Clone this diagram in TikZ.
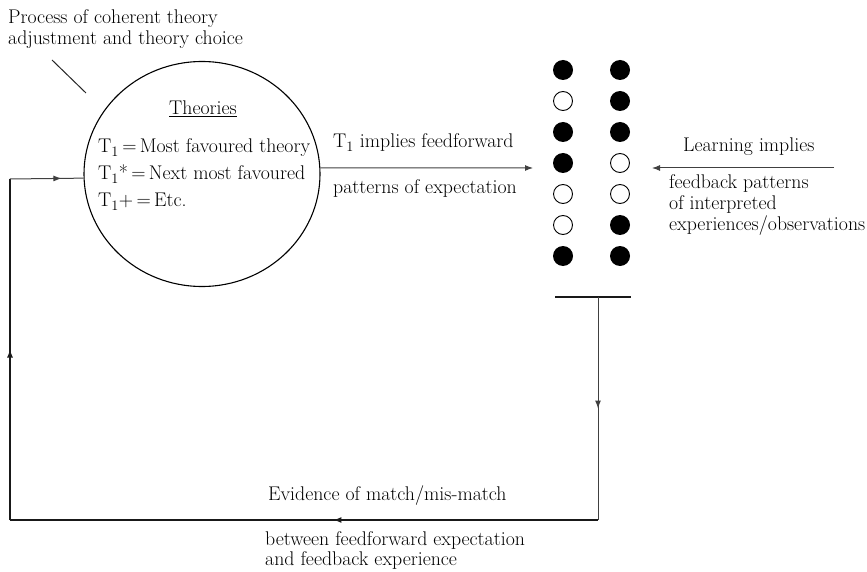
\documentclass[tikz,border=0pt]{standalone}
\usetikzlibrary{arrows.meta,shapes.geometric,decorations.markings}
\begin{document}
\begin{tikzpicture}[x=1pt,y=-1pt,
  txt/.style={font=\fontsize{19.8}{22}\selectfont, inner sep=0pt, anchor=base west},
  dotf/.style={circle, fill=black, minimum size=20pt, inner sep=0pt},
  doto/.style={circle, draw=black, line width=0.9pt, minimum size=19pt, inner sep=0pt},
  midarrow/.style={postaction={decorate}, decoration={markings, mark=at position #1 with {\arrow{Latex[length=8pt,width=6pt]}}}},
  loopline/.style={line width=1.3pt, black!90},
  thinline/.style={line width=1pt, black!75}
]
\useasboundingbox (0,0) rectangle (867,572);

% texts
\node[txt] (proc1) at (8,24) {Process of coherent theory};
\node[txt] (proc2) at (8,45) {adjustment and theory choice};
\coordinate (diagA) at (52,60);
\coordinate (diagB) at (86,93);
\draw[line width=1pt, black!85] (diagA) -- (diagB);

% ellipse of theories
\node[ellipse, draw, line width=1.1pt, minimum width=236pt, minimum height=225pt, inner sep=0pt] (theo) at (202,174) {};
\node[txt, anchor=base] (theories) at (203,115) {\underline{Theories}};
\node[txt] (t1) at (98,153) {T$_1$\,=\,Most favoured theory};
\node[txt] (t2) at (98,180) {T$_1$*\,=\,Next most favoured};
\node[txt] (t3) at (98,207) {T$_1$+\,=\,Etc.};

% feedforward
\node[txt] (ff1) at (333,148) {T$_1$ implies feedforward};
\node[txt] (ff2) at (333,194) {patterns of expectation};
\coordinate (ffend) at (533,168);
\draw[thinline, -{Latex[length=8pt,width=6pt]}] (theo.3) -- (ffend);

% dots
\foreach \r/\a/\b in {1/f/f, 2/o/f, 3/f/f, 4/f/o, 5/o/o, 6/o/f, 7/f/f} {
  \pgfmathsetmacro{\yy}{70+31*(\r-1)}
  \node[dot\a] (c1r\r) at (563,\yy) {};
  \node[dot\b] (c2r\r) at (620,\yy) {};
}

% learning
\node[txt] (learn) at (683,152) {Learning implies};
\node[txt] (fb1) at (669,189) {feedback patterns};
\node[txt] (fb2) at (669,209) {of interpreted};
\node[txt] (fb3) at (669,230) {experiences/observations};
\coordinate (lstart) at (834,168);
\coordinate (lend) at (652,168);
\draw[thinline, -{Latex[length=8pt,width=6pt]}] (lstart) -- (lend);

% bar and loop
\coordinate (barl) at (555,297);
\coordinate (barr) at (631,297);
\coordinate (barm) at (598,297);
\coordinate (cbr) at (598,520);
\coordinate (cbl) at (10,520);
\coordinate (ctl) at (10,179);
\draw[line width=1.3pt, black!90] (barl) -- (barr);
\draw[thinline, midarrow=0.5] (barm) -- (cbr);
\draw[loopline, midarrow=0.45] (cbr) -- (cbl);
\draw[loopline, midarrow=0.5] (cbl) -- (ctl);
\draw[thinline, midarrow=0.7] (ctl) -- (theo.182);

\node[txt] (ev) at (268,500) {Evidence of match/mis-match};
\node[txt] (bw1) at (265,545) {between feedforward expectation};
\node[txt] (bw2) at (265,565) {and feedback experience};
\end{tikzpicture}
\end{document}
